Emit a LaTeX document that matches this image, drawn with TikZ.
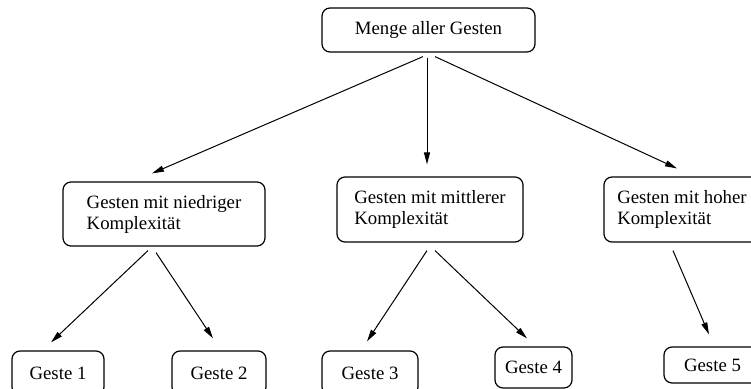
\documentclass[tikz,border=0pt]{standalone}
\usepackage{fontspec}
\setmainfont{Liberation Serif}
\usetikzlibrary{arrows.meta}

\begin{document}
\begin{tikzpicture}[x=0.5pt, y=-0.5pt, every node/.style={font=\fontsize{9.4}{10.5}\selectfont}, >={Triangle[length=6pt,width=3pt]},
	box/.style={draw, line width=0.6pt, rounded corners=4pt, align=left, inner sep=0pt},
	arr/.style={->, line width=0.5pt}]
	\clip (0,0) rectangle (751,389);
	\node[box, minimum width=106.5pt, minimum height=22pt] (all) at (428.5,30) {Menge aller Gesten};
	\node[box, minimum width=101pt, minimum height=32pt] (low) at (164,214) {Gesten mit niedriger\\Komplexität};
	\node[box, minimum width=93pt, minimum height=32.5pt] (mid) at (430,209.5) {Gesten mit mittlerer\\Komplexität};
	\node[box, minimum width=78pt, minimum height=32.5pt] (high) at (682,209.5) {Gesten mit hoher\\Komplexität};
	\foreach \n/\x/\y/\w/\h in {1/58/373/46/22, 2/219/373/47/22, 3/370/373/48/22, 4/533.5/367.5/38.5/20.5, 5/712.5/365/48.5/18} {
		\node[box, minimum width=\w pt, minimum height=\h pt] (g\n) at (\x,\y) {Geste \n};
	}
	\draw[arr] ([shift={(-5.5,4)}]all.south) -- ([shift={(-12,-8)}]low.north);
	\draw[arr] ([shift={(-1.5,5)}]all.south) -- ([shift={(-3,-12)}]mid.north);
	\draw[arr] ([shift={(6.5,4)}]all.south) -- ([shift={(-5,-8)}]high.north);
	\draw[arr] ([shift={(-16,4)}]low.south) -- ([shift={(-7,-8)}]g1.north);
	\draw[arr] ([shift={(-8,6)}]low.south) -- ([shift={(-6,-12)}]g2.north);
	\draw[arr] ([shift={(-3,8)}]mid.south) -- ([shift={(-3,-9)}]g3.north);
	\draw[arr] ([shift={(5,8)}]mid.south) -- ([shift={(-6.5,-8)}]g4.north);
	\draw[arr] ([shift={(-9,8)}]high.south) -- ([shift={(-3.5,-12)}]g5.north);
\end{tikzpicture}
\end{document}
